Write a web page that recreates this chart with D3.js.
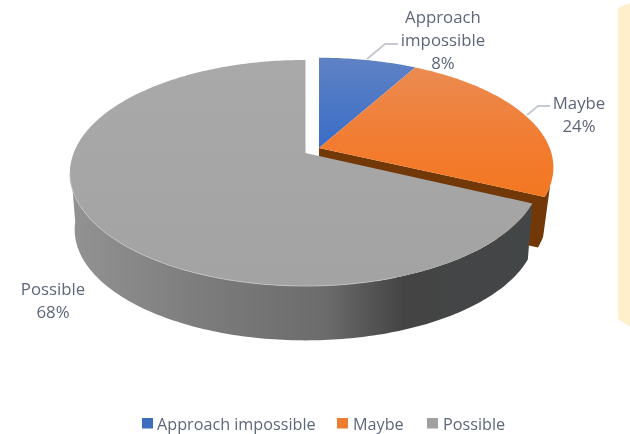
<!DOCTYPE html>
<html><head><meta charset="utf-8">
<script src="https://cdnjs.cloudflare.com/ajax/libs/d3/7.8.5/d3.min.js"></script>
<style>
html,body{margin:0;padding:0;background:#fff}
svg{display:block;filter:blur(0.4px)}
text{font-family:"Open Sans",sans-serif;fill:#5c677a}
</style></head><body><svg id="c" width="630" height="434"></svg>
<script>
const categories=["Approach impossible","Maybe","Possible"];
const values=[8,24,68];
const labelLines=[["Approach","impossible","8%"],["Maybe","24%"],["Possible","68%"]];

const svg=d3.select("#c");
const defs=svg.append("defs");
function grad(id,x1,y1,x2,y2,stops){
  const g=defs.append("linearGradient").attr("id",id).attr("gradientUnits","userSpaceOnUse")
    .attr("x1",x1).attr("y1",y1).attr("x2",x2).attr("y2",y2);
  stops.forEach(s=>g.append("stop").attr("offset",s[0]).attr("stop-color",s[1]));
}
grad("gBlue",0,58,0,148,[[0,"#5f82c4"],[1,"#3a6dc8"]]);
grad("gOrange",0,60,0,200,[[0,"#ea8c55"],[0.6,"#f27c30"],[1,"#f37720"]]);
grad("gGray",0,59,0,285,[[0,"#a9a9a9"],[1,"#a3a3a3"]]);
grad("gWall",68,0,535,0,[[0,"#939393"],[0.3,"#7b7b7b"],[0.55,"#6c6c6c"],[0.72,"#444444"],[1,"#434648"]]);

// perspective disc
const K=-0.177,RY=109.5,RX=233;
const geo=[
  {apex:[319,148],sx:0.99,sy:0.97,depth:52,shrink:0.97,minCos:-0.33},
  {apex:[319,148],sx:0.99,sy:0.97,depth:52,shrink:0.97,minCos:-0.33},
  {apex:[305.5,153],sx:0.995,sy:1,depth:57,shrink:0.98,minCos:-0.1}
];
function proj(a,g){
  const u=Math.sin(a),v=-Math.cos(a),w=1+K*v;
  return [g.apex[0]+g.sx*RX*u/w,g.apex[1]+g.sy*RY*v/w];
}
function low(p,g){
  return [g.apex[0]+(p[0]-g.apex[0])*g.shrink,g.apex[1]+(p[1]-g.apex[1])*g.shrink+g.depth];
}
const line=d3.line().curve(d3.curveLinear);
const arcs=d3.pie().sort(null)(values);
const tops=["url(#gBlue)","url(#gOrange)","url(#gGray)"];
const walls=["#2f5597","#733807","url(#gWall)"];

// cream band at the right edge
svg.append("path").attr("fill","#fff0cc").attr("d",line([[618,8],[630,3],[630,327],[618,319]])+"Z");

arcs.forEach((d,i)=>{
  const g=geo[i];
  const n=Math.ceil((d.endAngle-d.startAngle)*60);
  const angles=d3.range(n+1).map(k=>d.startAngle+(d.endAngle-d.startAngle)*k/n);
  const pts=angles.map(a=>proj(a,g));
  const last=pts[pts.length-1];
  const front=pts.filter((p,k)=>Math.cos(angles[k])<g.minCos);
  let wallPath=null;
  if(front.length>1) wallPath=line(front.concat(front.slice().reverse().map(p=>low(p,g))))+"Z";
  if(i===1){ // cut face along the end radius, same tone as the outer wall
    wallPath=(wallPath||"")+line([g.apex,last,low(last,g),low(g.apex,g)])+"Z";
  }
  if(wallPath){
    svg.append("path").attr("fill",walls[i]).attr("d",wallPath);
  }
  svg.append("path").attr("fill",tops[i]).attr("d",line([g.apex].concat(pts))+"Z");
  if(i===2){
    svg.append("path").attr("fill","none").attr("stroke","#c4c4c4").attr("stroke-width",0.8)
      .attr("d",line(pts.filter(p=>p[1]>172&&p[0]<400)));
  }
});

// leader lines
const leaders=[[[367,59],[385,44],[398,44]],[[527,115],[538,106],[550,106]]];
leaders.forEach(l=>svg.append("path").attr("d",line(l)).attr("fill","none")
  .attr("stroke","#c6cad0").attr("stroke-width",2));

// data labels
const labelPos=[[443,16],[579,102],[53,288]];
labelLines.forEach((ls,i)=>ls.forEach((t,k)=>{
  svg.append("text").attr("x",labelPos[i][0]).attr("y",labelPos[i][1]+k*23)
    .attr("text-anchor","middle").attr("dominant-baseline","central")
    .attr("font-size",16.8).text(t);
}));

// legend
const legX=[[142,157],[337,353],[427,443]];
const legCol=["#3c6cc0","#ed7d31","#a0a0a0"];
categories.forEach((c,i)=>{
  svg.append("rect").attr("x",legX[i][0]).attr("y",418).attr("width",11).attr("height",10.5).attr("fill",legCol[i]);
  svg.append("text").attr("x",legX[i][1]).attr("y",423.5).attr("dominant-baseline","central")
    .attr("font-size",16.2).text(c);
});
</script></body></html>
